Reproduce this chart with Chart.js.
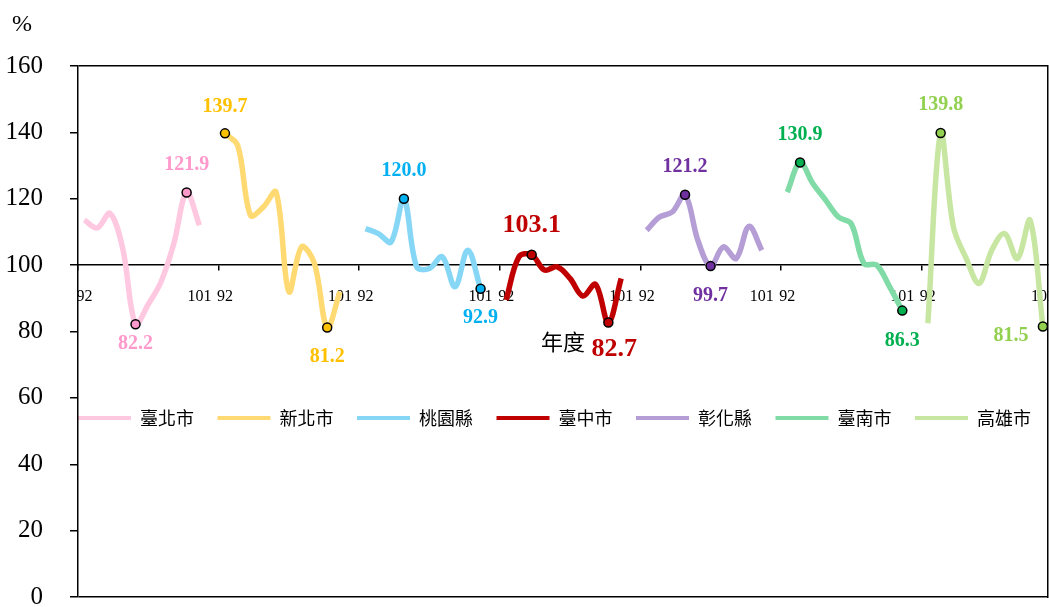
<!DOCTYPE html>
<html lang="zh-Hant">
<head>
<meta charset="utf-8">
<title>各縣市指數 92-101 年度</title>
<script src="https://cdn.jsdelivr.net/npm/chart.js@4.4.0/dist/chart.umd.min.js"></script>
<style>
  html, body { margin: 0; padding: 0; background: #fff; overflow: hidden; }
  /* a little wider than the window: the right edge of the plot is cropped like the original */
  #wrap { position: relative; width: 1054px; height: 607px; }
</style>
</head>
<body>
<div id="wrap"><canvas id="chart"></canvas></div>
<script>
// ---- data ----
const cities = ['臺北市', '新北市', '桃園縣', '臺中市', '彰化縣', '臺南市', '高雄市'];
const firstYear = '92';
const lastYear = '101';

const taipei    = [113.6, 111.2, 115.6, 105.0, 82.2, 88.2, 95.0, 106.5, 121.9, 112.0];
const newTaipei = [139.7, 136.0, 115.0, 117.5, 122.0, 92.0, 105.5, 100.5, 81.2, 92.0];
const taoyuan   = [111.0, 109.5, 107.0, 120.0, 99.5, 99.0, 102.5, 93.5, 104.5, 92.9];
const taichung  = [89.5, 102.5, 103.1, 98.5, 99.5, 96.0, 90.7, 94.2, 82.7, 96.0];
const changhua  = [110.5, 114.5, 116.0, 121.2, 107.5, 99.7, 105.5, 102.0, 111.7, 104.5];
const tainan    = [122.0, 130.9, 124.6, 119.6, 114.5, 112.5, 100.5, 100.0, 93.5, 86.3];
const kaohsiung = [82.5, 139.8, 111.5, 102.0, 94.5, 104.5, 109.5, 102.0, 113.5, 81.5];

const yTicks = [0, 20, 40, 60, 80, 100, 120, 140, 160];

// ---- styles ----
const series = [taipei, newTaipei, taoyuan, taichung, changhua, tainan, kaohsiung];
const lineColors  = ['#FFC8E1', '#FFDA73', '#86D6F6', '#C00000', '#B59DD6', '#80DBA6', '#C7E6A2'];
const labelColors = ['#FF99CC', '#FFC000', '#00B0F0', '#C00000', '#7030A0', '#00B050', '#92D050'];
const labelSizes  = [20, 20, 20, 26, 20, 20, 20];
// [dx, dy] for the max label and the min label
const markOffsets = [
  [[0, -28], [0, 20]],
  [[0, -27], [0, 29]],
  [[0, -28], [0, 29]],
  [[0, -30], [6, 27]],
  [[0, -28], [0, 30]],
  [[0, -28], [0, 30]],
  [[0, -28], [-32, 9]]
];
const SLOT = 11;          // 10 years + 1 empty slot per city
const LEG_PAD = 23.5;

function argMax(a) { return a.indexOf(Math.max(...a)); }
function argMin(a) { return a.indexOf(Math.min(...a)); }

const datasets = series.map((vals, g) => {
  const marks = [argMax(vals), argMin(vals)];
  return {
    label: cities[g],
    data: vals.map((v, i) => ({ x: g * SLOT + i + 0.5, y: v })),
    borderColor: lineColors[g],
    backgroundColor: lineColors[g],
    borderWidth: 5.5,
    tension: 0.35,
    fill: false,
    pointRadius: c => marks.includes(c.dataIndex) ? 4.5 : 0,
    pointBackgroundColor: labelColors[g],
    pointBorderColor: '#000',
    pointBorderWidth: 1.5,
    marks: marks
  };
});

// max / min value labels
const markLabels = {
  id: 'markLabels',
  afterDatasetsDraw(chart) {
    const ctx = chart.ctx;
    ctx.save();
    ctx.textAlign = 'center';
    ctx.textBaseline = 'middle';
    chart.data.datasets.forEach((ds, g) => {
      const meta = chart.getDatasetMeta(g);
      ds.marks.forEach((idx, k) => {
        const pt = meta.data[idx];
        const off = markOffsets[g][k];
        ctx.font = 'bold ' + labelSizes[g] + 'px "Liberation Serif"';
        ctx.fillStyle = labelColors[g];
        ctx.fillText(series[g][idx].toFixed(1), pt.x + off[0], pt.y + off[1]);
      });
    });
    ctx.restore();
  }
};

// unit text and legend placement inside the plot
const extras = {
  id: 'extras',
  afterLayout(chart) {
    const lg = chart.legend;
    const w = lg.width;
    lg.left = chart.chartArea.left - LEG_PAD;
    lg.right = lg.left + w;
    lg.top = 385.5;
    lg.bottom = lg.top + 60;
  },
  afterDraw(chart) {
    const ctx = chart.ctx;
    ctx.save();
    ctx.font = '24px "Liberation Serif"';
    ctx.fillStyle = '#000';
    ctx.textAlign = 'center';
    ctx.textBaseline = 'middle';
    ctx.fillText('%', 22, 25);
    ctx.restore();
  }
};

Chart.defaults.font.family = '"Liberation Serif", "Times New Roman", serif';

new Chart(document.getElementById('chart'), {
  type: 'line',
  data: { datasets: datasets },
  options: {
    responsive: true,
    maintainAspectRatio: false,
    animation: false,
    events: [],
    layout: { padding: { top: 65, left: 0, right: 0, bottom: 10 } },
    scales: {
      x: {
        type: 'linear',
        min: 0,
        max: 75.9,
        position: { y: 100 },
        afterBuildTicks: s => {
          const t = [];
          cities.forEach((c, g) => {
            t.push({ value: g * SLOT }, { value: g * SLOT + 0.5 }, { value: g * SLOT + 9.5 });
          });
          s.ticks = t.filter(k => k.value <= s.max);
        },
        afterFit: s => { s.paddingLeft = 0; s.paddingRight = 0; },
        grid: {
          drawOnChartArea: false,
          tickLength: 5,
          lineWidth: 1.5,
          tickColor: c => (c.tick && c.tick.value % SLOT === 0) ? '#000' : 'rgba(0,0,0,0)'
        },
        border: { color: '#000', width: 1.5 },
        ticks: {
          autoSkip: false,
          maxRotation: 0,
          padding: 17,
          color: '#000',
          font: { size: 16 },
          callback: v => {
            const r = v % SLOT;
            return r === 0.5 ? firstYear : (r === 9.5 ? lastYear : '');
          }
        },
        title: {
          display: true,
          text: '年度',
          color: '#000',
          font: { family: '"Noto Sans CJK TC"', size: 22 },
          padding: { top: 5, bottom: 0 }
        }
      },
      y: {
        min: yTicks[0],
        max: yTicks[yTicks.length - 1],
        afterBuildTicks: s => { s.ticks = yTicks.map(v => ({ value: v })); },
        afterFit: s => { s.width = 78; s.paddingTop = 0; s.paddingBottom = 0; },
        grid: {
          color: c => (c.tick && (c.tick.value === yTicks[0] || c.tick.value === yTicks[yTicks.length - 1])) ? '#000' : 'rgba(0,0,0,0)',
          tickColor: '#000',
          tickLength: 8,
          lineWidth: 1.5
        },
        border: { color: '#000', width: 1.5 },
        ticks: { padding: 27, color: '#000', font: { size: 25 } }
      },
      y2: {
        position: 'right',
        min: 0,
        max: 160,
        grid: { display: false },
        ticks: { display: false },
        border: { color: '#000', width: 1.5 },
        afterFit: s => { s.width = 1; }
      }
    },
    plugins: {
      tooltip: { enabled: false },
      legend: {
        position: 'top',
        align: 'start',
        maxHeight: 1,
        labels: {
          boxWidth: 53,
          boxHeight: 4,
          padding: LEG_PAD,
          color: '#000',
          font: { family: '"Noto Sans CJK TC"', size: 18 },
          generateLabels: chart => Chart.defaults.plugins.legend.labels.generateLabels(chart)
            .map(it => Object.assign({}, it, { fillStyle: it.strokeStyle, lineWidth: 0 }))
        }
      }
    }
  },
  plugins: [markLabels, extras]
});
</script>
</body>
</html>
